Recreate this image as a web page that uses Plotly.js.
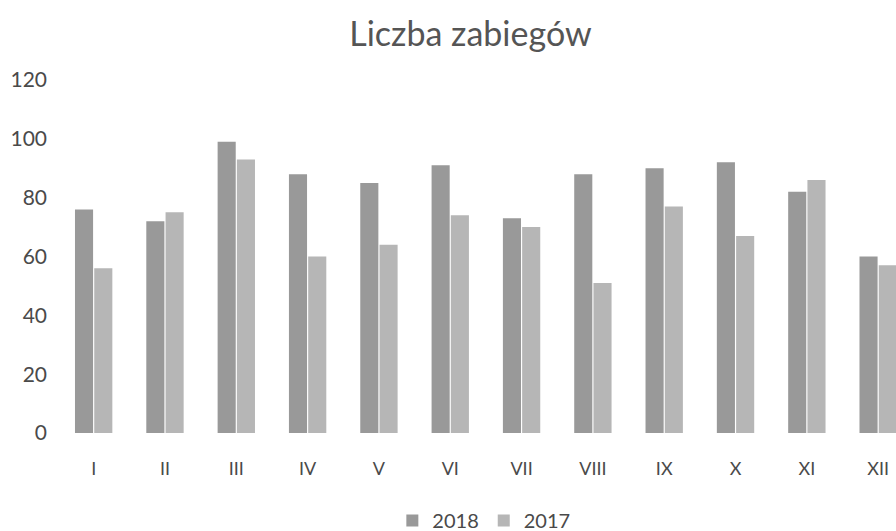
<!DOCTYPE html>
<html><head><meta charset="utf-8">
<script src="https://cdn.plot.ly/plotly-3.0.1.min.js"></script>
<style>html,body{margin:0;padding:0;background:#fff}#chart{width:896px;height:531px}</style>
</head><body><div id="chart"></div>
<script>
const months = ["I","II","III","IV","V","VI","VII","VIII","IX","X","XI","XII"];
const values2018 = [76, 72, 99, 88, 85, 91, 73, 88, 90, 92, 82, 60];
const values2017 = [56, 75, 93, 60, 64, 74, 70, 51, 77, 67, 86, 57];
const seriesNames = ["2018", "2017"];

const traces = [
  {type:"bar", name:seriesNames[0], x:months, y:values2018, marker:{color:"#999999"}},
  {type:"bar", name:seriesNames[1], x:months, y:values2017, marker:{color:"#b6b6b6"}}
];
const layout = {
  width:896, height:531,
  margin:{l:58, r:0, t:80, b:98},
  paper_bgcolor:"#fff", plot_bgcolor:"#fff",
  font:{family:"Lato, 'Open Sans', sans-serif", color:"#4a4a4a", size:18},
  title:{text:"Liczba zabiegów", x:0.525, xanchor:"center", y:0.935, yanchor:"middle",
         font:{size:34, color:"#555", family:"Lato, 'Open Sans', sans-serif"}},
  barmode:"group", bargap:0.46, bargroupgap:0.06,
  xaxis:{range:[-0.5, 11.25], showgrid:false, zeroline:false, showline:false, ticks:"",
         tickfont:{size:18, color:"#4a4a4a"}, ticklabelstandoff:23, automargin:false},
  yaxis:{range:[0,120], dtick:20, showgrid:false, zeroline:false, showline:false, ticks:"",
         tickfont:{size:21, color:"#4a4a4a"}, ticklabelstandoff:10, automargin:false},
  legend:{orientation:"h", x:0.54, xanchor:"center", xref:"container", yref:"container",
          y:0.02, yanchor:"middle",
          font:{size:20, color:"#4a4a4a"}, itemwidth:30, traceorder:"normal"},
  showlegend:true
};
Plotly.newPlot("chart", traces, layout, {displayModeBar:false, staticPlot:true});
</script></body></html>
